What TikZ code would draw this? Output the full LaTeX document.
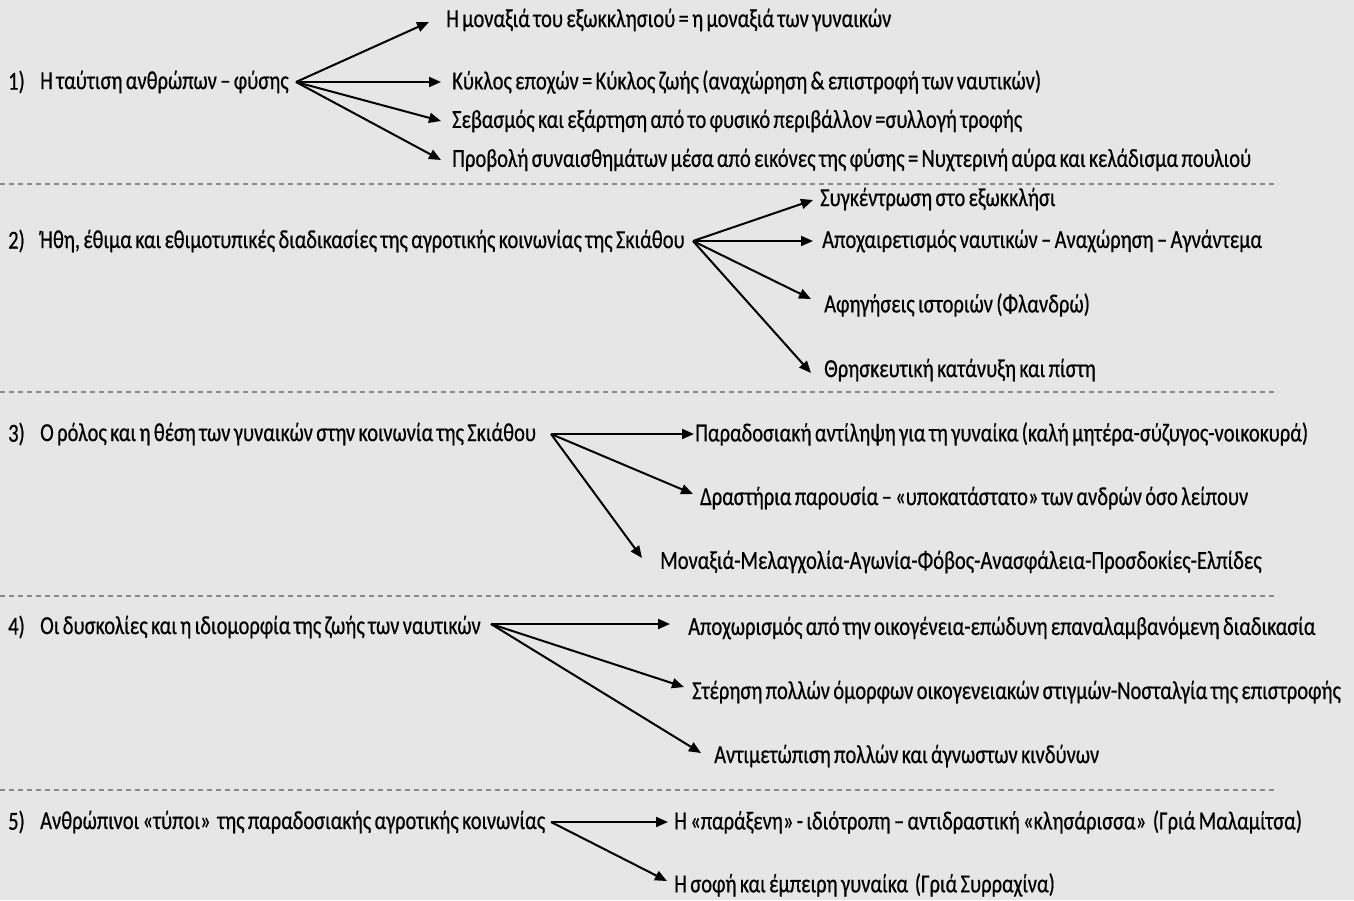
\documentclass[tikz,border=0pt]{standalone}
\usepackage{fontspec}
\setmainfont[FakeStretch=0.79,WordSpace=0.72,FakeBold=0.5]{Carlito}
\usetikzlibrary{arrows.meta}
\definecolor{bg}{HTML}{E6E6E6}
\definecolor{dash}{HTML}{8A8A8A}
\tikzset{
  txt/.style={anchor=west, inner xsep=0pt, inner ysep=1pt, font=\fontsize{26}{28}\selectfont, text=black},
  num/.style={txt},
  arr/.style={-{Triangle[length=12pt,width=10pt]}, line width=2pt, black},
  sep/.style={draw=dash, line width=1.3pt, dash pattern=on 5pt off 4pt}
}
\begin{document}
\begin{tikzpicture}[x=1pt,y=-1pt]
\fill[bg] (0,0) rectangle (1354,900);
\useasboundingbox (0,0) rectangle (1354,900);

% separators
\coordinate (s1a) at (0,184); \coordinate (s1b) at (1278,184);
\coordinate (s2a) at (0,392); \coordinate (s2b) at (1278,392);
\coordinate (s3a) at (0,596); \coordinate (s3b) at (1278,596);
\coordinate (s4a) at (0,790); \coordinate (s4b) at (1278,790);
\draw[sep] (s1a) -- (s1b);
\draw[sep] (s2a) -- (s2b);
\draw[sep] (s3a) -- (s3b);
\draw[sep] (s4a) -- (s4b);

% Section 1
\node[num] (n1) at (8,82) {1)};
\node[txt] (m1) at (40,82) {Η ταύτιση ανθρώπων – φύσης};
\coordinate (o1) at (296,82);
\node[txt] (t11) at (446,20) {Η μοναξιά του εξωκκλησιού = η μοναξιά των γυναικών};
\node[txt] (t12) at (452,82) {Κύκλος εποχών = Κύκλος ζωής (αναχώρηση \& επιστροφή των ναυτικών)};
\node[txt] (t13) at (452,121) {Σεβασμός και εξάρτηση από το φυσικό περιβάλλον =συλλογή τροφής};
\node[txt] (t14) at (452,160) {Προβολή συναισθημάτων μέσα από εικόνες της φύσης = Νυχτερινή αύρα και κελάδισμα πουλιού};
\coordinate (p11) at (429,22);
\coordinate (p12) at (441,82);
\coordinate (p13) at (441,121);
\coordinate (p14) at (441,160);
\draw[arr] (o1) -- (p11);
\draw[arr] (o1) -- (p12);
\draw[arr] (o1) -- (p13);
\draw[arr] (o1) -- (p14);

% Section 2
\node[num] (n2) at (8,241) {2)};
\node[txt] (m2) at (40,241) {Ήθη, έθιμα και εθιμοτυπικές διαδικασίες της αγροτικής κοινωνίας της Σκιάθου};
\coordinate (o2) at (693,241);
\node[txt] (t21) at (820,199) {Συγκέντρωση στο εξωκκλήσι};
\node[txt] (t22) at (822,241) {Αποχαιρετισμός ναυτικών – Αναχώρηση – Αγνάντεμα};
\node[txt] (t23) at (824,305) {Αφηγήσεις ιστοριών (Φλανδρώ)};
\node[txt] (t24) at (824,370) {Θρησκευτική κατάνυξη και πίστη};
\coordinate (p21) at (813,200);
\coordinate (p22) at (813,241);
\coordinate (p23) at (811,299);
\coordinate (p24) at (811,373);
\draw[arr] (o2) -- (p21);
\draw[arr] (o2) -- (p22);
\draw[arr] (o2) -- (p23);
\draw[arr] (o2) -- (p24);

% Section 3
\node[num] (n3) at (8,434) {3)};
\node[txt] (m3) at (40,434) {Ο ρόλος και η θέση των γυναικών στην κοινωνία της Σκιάθου};
\coordinate (o3) at (551,434);
\node[txt] (t31) at (695,434) {Παραδοσιακή αντίληψη για τη γυναίκα (καλή μητέρα-σύζυγος-νοικοκυρά)};
\node[txt] (t32) at (700,498) {Δραστήρια παρουσία – «υποκατάστατο» των ανδρών όσο λείπουν};
\node[txt] (t33) at (660,562) {Μοναξιά-Μελαγχολία-Αγωνία-Φόβος-Ανασφάλεια-Προσδοκίες-Ελπίδες};
\coordinate (p31) at (694,434);
\coordinate (p32) at (693,494);
\coordinate (p33) at (642,558);
\draw[arr] (o3) -- (p31);
\draw[arr] (o3) -- (p32);
\draw[arr] (o3) -- (p33);

% Section 4
\node[num] (n4) at (8,627) {4)};
\node[txt] (m4) at (40,627) {Οι δυσκολίες και η ιδιομορφία της ζωής των ναυτικών};
\coordinate (o4) at (491,624);
\node[txt] (t41) at (688,628) {Αποχωρισμός από την οικογένεια-επώδυνη επαναλαμβανόμενη διαδικασία};
\node[txt] (t42) at (692,692) {Στέρηση πολλών όμορφων οικογενειακών στιγμών-Νοσταλγία της επιστροφής};
\node[txt] (t43) at (714,756) {Αντιμετώπιση πολλών και άγνωστων κινδύνων};
\coordinate (p41) at (670,624);
\coordinate (p42) at (684,687);
\coordinate (p43) at (701,753);
\draw[arr] (o4) -- (p41);
\draw[arr] (o4) -- (p42);
\draw[arr] (o4) -- (p43);

% Section 5
\node[num] (n5) at (8,822) {5)};
\node[txt] (m5) at (40,822) {Ανθρώπινοι «τύποι»\ \ της παραδοσιακής αγροτικής κοινωνίας};
\coordinate (o5) at (551,822);
\node[txt] (t51) at (674,822) {Η «παράξενη» - ιδιότροπη – αντιδραστική «κλησάρισσα»\ \ (Γριά Μαλαμίτσα)};
\node[txt] (t52) at (674,885) {Η σοφή και έμπειρη γυναίκα\ \ (Γριά Συρραχίνα)};
\coordinate (p51) at (668,822);
\coordinate (p52) at (667,881);
\draw[arr] (o5) -- (p51);
\draw[arr] (o5) -- (p52);
\end{tikzpicture}
\end{document}
